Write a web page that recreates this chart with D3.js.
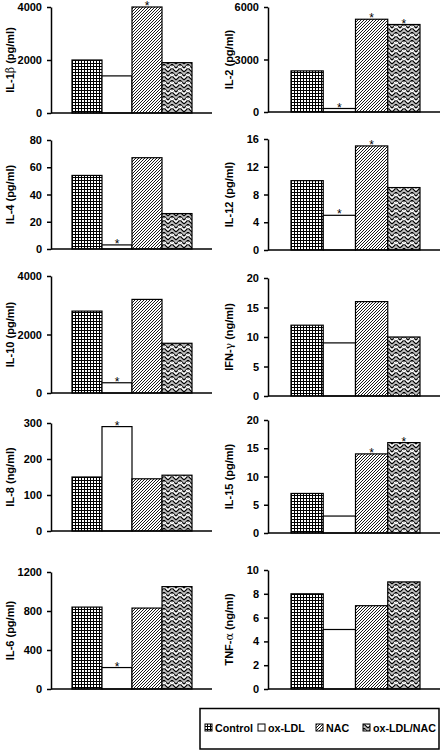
<!DOCTYPE html>
<html><head><meta charset="utf-8">
<script src="https://cdn.jsdelivr.net/npm/d3@7"></script>
<style>body{margin:0;background:#fff}svg{display:block}</style>
</head><body><svg id="c" width="441" height="751"></svg>
<script>
// ---- data ----
const groups = ["Control", "ox-LDL", "NAC", "ox-LDL/NAC"];
const labels = ["IL-1β (pg/ml)", "IL-2 (pg/ml)", "IL-4 (pg/ml)", "IL-12 (pg/ml)", "IL-10 (pg/ml)",
                "IFN-γ (ng/ml)", "IL-8 (ng/ml)", "IL-15 (pg/ml)", "IL-6 (pg/ml)", "TNF-α  (ng/ml)"];
const il1b = [2000, 1400, 4000, 1900];
const il2  = [2350, 200, 5300, 5000];
const il4  = [54, 3, 67, 26];
const il12 = [10, 5, 15, 9];
const il10 = [2800, 350, 3200, 1700];
const ifng = [12, 9, 16, 10];
const il8  = [150, 290, 145, 155];
const il15 = [7, 3, 14, 16];
const il6  = [840, 220, 830, 1050];
const tnfa = [8, 5, 7, 9];
const il1bSig = [0, 0, 1, 0];
const il2Sig  = [0, 1, 1, 1];
const il4Sig  = [0, 1, 0, 0];
const il12Sig = [0, 1, 1, 0];
const il10Sig = [0, 1, 0, 0];
const ifngSig = [0, 0, 0, 0];
const il8Sig  = [0, 1, 0, 0];
const il15Sig = [0, 0, 1, 1];
const il6Sig  = [0, 1, 0, 0];
const tnfaSig = [0, 0, 0, 0];
const il1bTicks = [0, 2000, 4000];
const il2Ticks  = [0, 3000, 6000];
const il4Ticks  = [0, 20, 40, 60, 80];
const il12Ticks = [0, 4, 8, 12, 16];
const il10Ticks = [0, 2000, 4000];
const ifngTicks = [0, 5, 10, 15, 20];
const il8Ticks  = [0, 100, 200, 300];
const il15Ticks = [0, 5, 10, 15, 20];
const il6Ticks  = [0, 400, 800, 1200];
const tnfaTicks = [0, 2, 4, 6, 8, 10];

const values = [il1b, il2, il4, il12, il10, ifng, il8, il15, il6, tnfa];
const sigs = [il1bSig, il2Sig, il4Sig, il12Sig, il10Sig, ifngSig, il8Sig, il15Sig, il6Sig, tnfaSig];
const tickSets = [il1bTicks, il2Ticks, il4Ticks, il12Ticks, il10Ticks, ifngTicks, il8Ticks, il15Ticks, il6Ticks, tnfaTicks];

// ---- layout ----
const cols = [
  {ax: 51, end: 212, b0: 72, b1: 192, lx: 14},
  {ax: 268, end: 440, b0: 291, b1: 420, lx: 233}
];
const vert = [[7, 113], [7, 112], [140, 249], [139, 250], [276, 393], [278, 396],
              [423, 531], [420, 533], [572, 689], [570, 689]];
const FONT = "'Liberation Sans', Arial, sans-serif";

const svg = d3.select("#c");
const defs = svg.append("defs");
// grid pattern
const pg = defs.append("pattern").attr("id", "pGrid").attr("patternUnits", "userSpaceOnUse")
  .attr("width", 3).attr("height", 3);
pg.append("rect").attr("width", 3).attr("height", 3).attr("fill", "#fff");
pg.append("path").attr("d", "M0,0.5H3M0.5,0V3").attr("stroke", "#000").attr("stroke-width", 1);
// diagonal pattern
const pd = defs.append("pattern").attr("id", "pDiag").attr("patternUnits", "userSpaceOnUse")
  .attr("width", 3).attr("height", 3);
pd.append("rect").attr("width", 3).attr("height", 3).attr("fill", "#fff");
pd.append("path").attr("d", "M-1,1L1,-1M0,3L3,0M2,4L4,2").attr("stroke", "#000").attr("stroke-width", 0.9);
// herringbone pattern
const pz = defs.append("pattern").attr("id", "pZig").attr("patternUnits", "userSpaceOnUse")
  .attr("width", 8).attr("height", 8);
pz.append("rect").attr("width", 8).attr("height", 8).attr("fill", "#bdbdbd");
pz.append("path").attr("d", "M0,4L4,0L8,4M0,8L4,4L8,8M-2,2L0,0M8,0L10,2")
  .attr("stroke", "#000").attr("stroke-width", 1.2).attr("fill", "none");
pz.append("path").attr("d", "M0,6L2,4M6,4L8,6M2,2L4,4L6,2M0,2L-1,1M8,2L9,1")
  .attr("stroke", "#fff").attr("stroke-width", 1.1).attr("fill", "none");
const fills = ["url(#pGrid)", "#fff", "url(#pDiag)", "url(#pZig)"];

function addLabel(g, text, x, y) {
  const t = g.append("text").attr("transform", `translate(${x},${y}) rotate(-90)`)
    .attr("text-anchor", "middle").attr("font-family", FONT).attr("font-size", 11)
    .attr("font-weight", "bold").attr("fill", "#000");
  text.split(/([βγα])/).forEach(part => {
    if (!part) return;
    const greek = /[βγα]/.test(part);
    t.append("tspan").text(part)
      .attr("font-weight", greek ? "normal" : "bold")
      .attr("font-family", greek ? "'DejaVu Serif', serif" : FONT);
  });
}

values.forEach((vals, i) => {
  const c = cols[i % 2];
  const [top, zero] = vert[i];
  const ticks = tickSets[i];
  const y = d3.scaleLinear().domain([0, d3.max(ticks)]).range([zero, top]);
  const x = d3.scaleBand().domain(groups).range([c.b0, c.b1]).padding(0);
  const g = svg.append("g");

  g.selectAll("rect.bar").data(vals).join("rect").attr("class", "bar")
    .attr("x", (d, j) => x(groups[j])).attr("width", x.bandwidth())
    .attr("y", d => y(d)).attr("height", d => zero - y(d))
    .attr("fill", (d, j) => fills[j]).attr("stroke", "#000").attr("stroke-width", 1.2);

  g.selectAll("text.sig").data(vals.map((v, j) => ({v, j})).filter(d => sigs[i][d.j]))
    .join("text").attr("class", "sig")
    .attr("x", d => x(groups[d.j]) + x.bandwidth() / 2).attr("y", d => y(d.v) + 3)
    .attr("text-anchor", "middle").attr("font-family", FONT).attr("font-size", 12).text("*");

  const ax = g.append("g").attr("transform", `translate(${c.ax},0)`)
    .call(d3.axisLeft(y).tickValues(ticks).tickSize(4).tickSizeOuter(0).tickPadding(5).tickFormat(d3.format("d")));
  ax.select(".domain").attr("stroke-width", 1.5);
  ax.selectAll(".tick line").attr("stroke-width", 1.5);
  ax.selectAll("text").attr("font-family", FONT).attr("font-size", 11).attr("font-weight", "bold");

  g.append("line").attr("x1", c.ax).attr("x2", c.end).attr("y1", zero).attr("y2", zero)
    .attr("stroke", "#000").attr("stroke-width", 1.5);

  addLabel(g, labels[i], c.lx, (top + zero) / 2);
});

// legend
const lg = svg.append("g");
lg.append("rect").attr("x", 200).attr("y", 708.5).attr("width", 239).attr("height", 40.5)
  .attr("fill", "none").attr("stroke", "#000").attr("stroke-width", 1.5);
const legX = d3.scaleOrdinal().domain(groups).range([205, 258, 316, 363]);
groups.forEach((gname, j) => {
  lg.append("rect").attr("x", legX(gname)).attr("y", 724).attr("width", 7).attr("height", 7)
    .attr("fill", fills[j]).attr("stroke", "#000").attr("stroke-width", 1);
  lg.append("text").attr("x", legX(gname) + 10).attr("y", 732)
    .attr("font-family", FONT).attr("font-size", 10.7).attr("font-weight", "bold").text(gname);
});
</script></body></html>
